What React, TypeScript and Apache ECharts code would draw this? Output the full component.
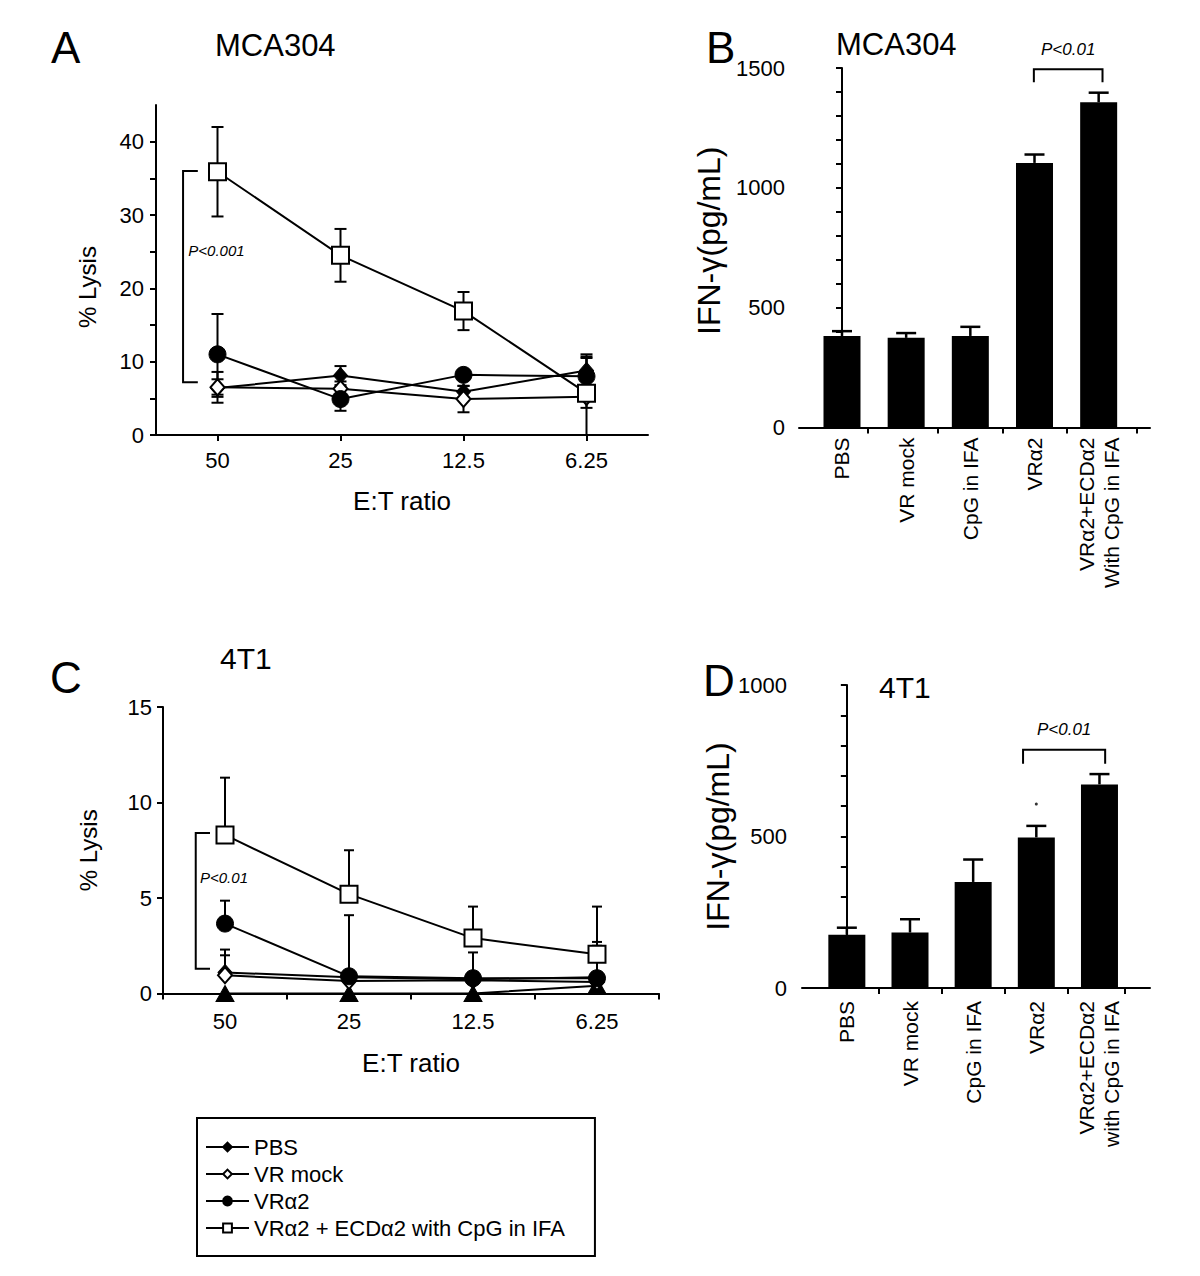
import React, { useEffect, useRef } from 'react';
import * as echarts from 'echarts';

const FONT = '"Liberation Sans", Arial, Helvetica, sans-serif';

// ---------- Panels A / C : % lysis vs E:T ratio ----------
const ratioCategories = ['50', '25', '12.5', '6.25'];

const seriesNames = ['PBS', 'VR mock', 'VRα2', 'VRα2 + ECDα2 with CpG in IFA'];

// Panel A (MCA304)
const aPBS = [6.4, 8.1, 5.9, 8.8];
const aPBSErr = [1.2, 1.3, 0.8, 2.2];
const aMock = [6.5, 6.3, 4.9, 5.2];
const aMockErr = [2.1, 1.0, 1.8, 5.5];
const aVRa2 = [11.0, 4.9, 8.2, 8.0];
const aVRa2Err = [5.5, 1.6, 0.7, 2.5];
const aCombo = [35.9, 24.5, 16.9, 5.7];
const aComboErr = [6.1, 3.6, 2.6, 2.0];
const aYLabels = [0, 10, 20, 30, 40];
const aYTicks = [0, 5, 10, 15, 20, 25, 30, 35, 40];

// Panel C (4T1)
const cPBS = [1.1, 0.85, 0.75, 0.85];
const cPBSErr = [1.2, 0.3, 0.3, 1.65];
const cMock = [0.95, 0.65, 0.7, 0.6];
const cMockErr = [1.05, 0.3, 0.3, 0.3];
const cVRa2 = [3.66, 0.9, 0.8, 0.8];
const cVRa2Err = [1.2, 3.2, 1.35, 1.9];
const cCombo = [8.3, 5.2, 2.9, 2.05];
const cComboErr = [3.0, 2.3, 1.65, 2.5];
const cUnlabeled = [0, 0, 0, 0.4];
const cYLabels = [0, 5, 10, 15];

// ---------- Panels B / D : IFN-γ bars ----------
const groupsB = ['PBS', 'VR mock', 'CpG in IFA', 'VRα2', 'VRα2+ECDα2\nWith CpG in IFA'];
const groupsD = ['PBS', 'VR mock', 'CpG in IFA', 'VRα2', 'VRα2+ECDα2\nwith CpG in IFA'];
const bValues = [382, 374, 382, 1104, 1357];
const bErr = [20, 20, 38, 35, 40];
const dValues = [176, 183, 350, 497, 672];
const dErr = [23, 44, 74, 38, 34];
const dStrayDot = [[3, 607]];
const bYLabels = [0, 500, 1000, 1500];
const bYTicks = [0, 100, 200, 300, 400, 500, 600, 700, 800, 900, 1000, 1100, 1200, 1300, 1400, 1500];
const dYLabels = [0, 500, 1000];
const dYTicks = [0, 100, 200, 300, 400, 500, 600, 700, 800, 900, 1000];
const bXTicks = [0.4, 1.5, 2.5, 3.5, 4.6];
const dXTicks = [0.5, 1.5, 2.5, 3.5, 4.4];
const barPositions = [0, 1, 2, 3, 4];

// ---------- significance annotations ----------
// lysis panels: [category index, bracket top, bracket bottom, text value]
const aSig = [[0, 36, 7.2, 25.1]];
const cSig = [[0, 8.4, 1.3, 6.05]];
// bar panels: [x left, x right, bracket top, leg end, text value]
const bSig = [[2.99, 4.06, 1495, 1441, 1579]];
const dSig = [[2.79, 4.09, 786, 740, 852]];
const sigTextA = 'P<0.001';
const sigTextC = 'P<0.01';
const sigTextB = 'P<0.01';
const sigTextD = 'P<0.01';

const BLACK = '#000';
const axisLineStyle = { show: true, lineStyle: { color: BLACK, width: 2 } };

function errorBars(name: string, axis: number, values: number[], errs: number[], both: boolean, capHalf: number) {
  return {
    type: 'custom',
    name,
    xAxisIndex: axis,
    yAxisIndex: axis,
    z: 1,
    silent: true,
    clip: false,
    data: values.map((v, i) => [i, v, errs[i]]),
    encode: { x: 0, y: 1 },
    renderItem: (params: any, api: any) => {
      const x = api.value(0);
      const v = api.value(1);
      const e = api.value(2);
      const hi = api.coord([x, v + e]);
      const loVal = both ? Math.max(v - e, 0) : v;
      const lo = api.coord([x, loVal]);
      const st = { stroke: BLACK, lineWidth: 2 };
      const children: any[] = [
        { type: 'line', shape: { x1: hi[0], y1: hi[1], x2: lo[0], y2: lo[1] }, style: st },
        { type: 'line', shape: { x1: hi[0] - capHalf, y1: hi[1], x2: hi[0] + capHalf, y2: hi[1] }, style: st },
      ];
      if (both && v - e > 0) {
        children.push({ type: 'line', shape: { x1: lo[0] - capHalf, y1: lo[1], x2: lo[0] + capHalf, y2: lo[1] }, style: st });
      }
      return { type: 'group', children };
    },
  };
}

function barErrorBars(name: string, axis: number, values: number[], errs: number[]) {
  return {
    type: 'custom',
    name,
    xAxisIndex: axis,
    yAxisIndex: axis,
    z: 1,
    silent: true,
    clip: false,
    data: values.map((v, i) => [barPositions[i], v, errs[i]]),
    encode: { x: 0, y: 1 },
    renderItem: (params: any, api: any) => {
      const x = api.value(0);
      const v = api.value(1);
      const e = api.value(2);
      const hi = api.coord([x, v + e]);
      const lo = api.coord([x, v]);
      const st = { stroke: BLACK, lineWidth: 2.5 };
      return {
        type: 'group',
        children: [
          { type: 'line', shape: { x1: hi[0], y1: hi[1], x2: lo[0], y2: lo[1] }, style: st },
          { type: 'line', shape: { x1: hi[0] - 10, y1: hi[1], x2: hi[0] + 10, y2: hi[1] }, style: st },
        ],
      };
    },
  };
}

function lysisBracket(name: string, axis: number, data: number[][], text: string, offFrac: number, tickFrac: number) {
  return {
    type: 'custom',
    name,
    xAxisIndex: axis,
    yAxisIndex: axis,
    z: 3,
    silent: true,
    clip: false,
    data,
    encode: { x: 0, y: [1, 2, 3] },
    renderItem: (params: any, api: any) => {
      const c = api.value(0);
      const top = api.coord([c, api.value(1)]);
      const bot = api.coord([c, api.value(2)]);
      const tp = api.coord([c, api.value(3)]);
      const bw = api.size([1, 0])[0];
      const x = top[0] + offFrac * bw;
      const t = tickFrac * bw;
      return {
        type: 'group',
        children: [
          {
            type: 'polyline',
            shape: { points: [[x + t, top[1]], [x, top[1]], [x, bot[1]], [x + t, bot[1]]] },
            style: { stroke: BLACK, lineWidth: 2, fill: 'none' },
          },
          {
            type: 'text',
            x: tp[0] - 1,
            y: tp[1],
            style: { text, fontSize: 15, fontStyle: 'italic', fontFamily: FONT, fill: BLACK, align: 'center', verticalAlign: 'middle' },
          },
        ],
      };
    },
  };
}

function barBracket(name: string, axis: number, data: number[][], text: string) {
  return {
    type: 'custom',
    name,
    xAxisIndex: axis,
    yAxisIndex: axis,
    z: 3,
    silent: true,
    clip: false,
    data,
    encode: { x: [0, 1], y: [2, 3, 4] },
    renderItem: (params: any, api: any) => {
      const l = api.coord([api.value(0), api.value(2)]);
      const r = api.coord([api.value(1), api.value(2)]);
      const legY = api.coord([api.value(0), api.value(3)])[1];
      const ty = api.coord([api.value(0), api.value(4)])[1];
      return {
        type: 'group',
        children: [
          {
            type: 'polyline',
            shape: { points: [[l[0], legY], [l[0], l[1]], [r[0], r[1]], [r[0], legY]] },
            style: { stroke: BLACK, lineWidth: 2, fill: 'none' },
          },
          {
            type: 'text',
            x: (l[0] + r[0]) / 2,
            y: ty,
            style: { text, fontSize: 17, fontStyle: 'italic', fontFamily: FONT, fill: BLACK, align: 'center', verticalAlign: 'middle' },
          },
        ],
      };
    },
  };
}

function lineSeries(name: string, axis: number, values: number[], symbol: string, size: any, filled: boolean, z: number) {
  return {
    type: 'line',
    name,
    xAxisIndex: axis,
    yAxisIndex: axis,
    data: values,
    symbol,
    symbolSize: size,
    showAllSymbol: true,
    clip: false,
    z,
    lineStyle: { color: BLACK, width: 2 },
    itemStyle: filled
      ? { color: BLACK, borderColor: BLACK, borderWidth: 1 }
      : { color: '#fff', borderColor: BLACK, borderWidth: 2 },
    emphasis: { disabled: true },
  };
}

function lysisXAxis(grid: number, alignTicks: boolean, labelMargin: number, nameGap: number) {
  return {
    type: 'category',
    gridIndex: grid,
    data: ratioCategories,
    boundaryGap: true,
    axisLine: axisLineStyle,
    axisTick: { show: true, alignWithLabel: alignTicks, length: 6, lineStyle: { color: BLACK, width: 2 } },
    axisLabel: { fontSize: 22, color: BLACK, margin: labelMargin, fontFamily: FONT },
    name: 'E:T ratio',
    nameLocation: 'middle',
    nameGap,
    nameTextStyle: { fontSize: 26, color: BLACK, fontFamily: FONT },
    splitLine: { show: false },
  };
}

function valueYAxis(
  grid: number,
  max: number,
  labels: number[],
  ticks: number[],
  name: string,
  nameGap: number,
  nameSize: number,
  labelMargin: number,
  namePadding: number[],
) {
  return {
    type: 'value',
    gridIndex: grid,
    min: 0,
    max,
    axisLine: axisLineStyle,
    axisTick: { show: true, customValues: ticks, length: 6, lineStyle: { color: BLACK, width: 2 } },
    axisLabel: {
      customValues: labels,
      formatter: (v: number) => String(v),
      fontSize: 22,
      color: BLACK,
      margin: labelMargin,
      fontFamily: FONT,
    },
    splitLine: { show: false },
    name,
    nameLocation: 'middle',
    nameRotate: 90,
    nameGap,
    nameTextStyle: { fontSize: nameSize, color: BLACK, fontFamily: FONT, padding: namePadding },
  };
}

function barXAxis(grid: number, min: number, groups: string[], ticks: number[], margin: number) {
  return {
    type: 'value',
    gridIndex: grid,
    min,
    max: 4.8,
    axisLine: axisLineStyle,
    axisTick: { show: true, customValues: ticks, length: 6, lineStyle: { color: BLACK, width: 2 } },
    axisLabel: {
      customValues: barPositions,
      formatter: (v: number) => groups[Math.round(v)] ?? '',
      rotate: 90,
      fontSize: 21,
      lineHeight: 25,
      color: BLACK,
      margin,
      fontFamily: FONT,
    },
    splitLine: { show: false },
  };
}

function bars(name: string, axis: number, values: number[]) {
  return {
    type: 'bar',
    name,
    xAxisIndex: axis,
    yAxisIndex: axis,
    data: values.map((v, i) => [barPositions[i], v]),
    barWidth: 37,
    itemStyle: { color: BLACK },
    z: 2,
    emphasis: { disabled: true },
  };
}

function titleText(text: string, left: number, top: number, size: number) {
  return { text, left, top, padding: 0, textStyle: { fontSize: size, fontWeight: 'normal', color: BLACK, fontFamily: FONT } };
}

const option: any = {
  animation: false,
  backgroundColor: '#fff',
  textStyle: { fontFamily: FONT, color: BLACK },
  title: [
    titleText('A', 51, 25, 44),
    titleText('MCA304', 215, 30, 31),
    titleText('B', 706, 25, 44),
    titleText('MCA304', 836, 29, 31),
    titleText('C', 50, 655, 44),
    titleText('4T1', 220, 643, 30),
    titleText('D', 703, 658, 44),
    titleText('4T1', 879, 672, 30),
  ],
  legend: {
    data: seriesNames,
    orient: 'vertical',
    left: 197,
    top: 1118,
    itemWidth: 43,
    itemHeight: 11,
    itemGap: 5,
    borderColor: BLACK,
    borderWidth: 2,
    borderRadius: 0,
    padding: [18, 30, 17, 8],
    selectedMode: false,
    textStyle: { fontSize: 22, color: BLACK, fontFamily: FONT },
  },
  grid: [
    { left: 156, top: 105, width: 492, height: 330, containLabel: false, outerBoundsMode: 'none' },
    { left: 799, top: 68, width: 351, height: 359.5, containLabel: false, outerBoundsMode: 'none' },
    { left: 163, top: 707, width: 496, height: 286.5, containLabel: false, outerBoundsMode: 'none' },
    { left: 802, top: 685, width: 348, height: 303, containLabel: false, outerBoundsMode: 'none' },
  ],
  xAxis: [
    lysisXAxis(0, true, 14, 53),
    barXAxis(1, -0.67, groupsB, bXTicks, 10),
    lysisXAxis(2, false, 17, 56),
    barXAxis(3, -0.71, groupsD, dXTicks, 13),
  ],
  yAxis: [
    valueYAxis(0, 45, aYLabels, aYTicks, '% Lysis', 57, 24, 12, [0, 34, 0, 0]),
    valueYAxis(1, 1500, bYLabels, bYTicks, 'IFN-γ(pg/mL)', 74, 32, 14, [0, 0, 0, 14]),
    valueYAxis(2, 15, cYLabels, cYLabels, '% Lysis', 63, 24, 11, [0, 0, 0, 0]),
    valueYAxis(3, 1000, dYLabels, dYTicks, 'IFN-γ(pg/mL)', 68, 32, 15, [0, 0, 0, 0]),
  ],
  series: [
    // Panel A
    errorBars('errA-PBS', 0, aPBS, aPBSErr, true, 6),
    errorBars('errA-mock', 0, aMock, aMockErr, true, 6),
    errorBars('errA-VRa2', 0, aVRa2, aVRa2Err, true, 6),
    errorBars('errA-combo', 0, aCombo, aComboErr, true, 6),
    lineSeries(seriesNames[0], 0, aPBS, 'diamond', [14, 16], true, 3),
    lineSeries(seriesNames[1], 0, aMock, 'diamond', [14, 16], false, 4),
    lineSeries(seriesNames[2], 0, aVRa2, 'circle', 17, true, 5),
    lineSeries(seriesNames[3], 0, aCombo, 'rect', 17, false, 6),
    lysisBracket('sigA', 0, aSig, sigTextA, -0.28, 0.12),
    // Panel B
    barErrorBars('errB', 1, bValues, bErr),
    bars('IFN-γ MCA304', 1, bValues),
    barBracket('sigB', 1, bSig, sigTextB),
    // Panel C
    errorBars('errC-PBS', 2, cPBS, cPBSErr, false, 5),
    errorBars('errC-mock', 2, cMock, cMockErr, false, 5),
    errorBars('errC-VRa2', 2, cVRa2, cVRa2Err, false, 5),
    errorBars('errC-combo', 2, cCombo, cComboErr, false, 5),
    lineSeries('Unlabeled', 2, cUnlabeled, 'triangle', [18, 16], true, 3),
    lineSeries(seriesNames[0], 2, cPBS, 'diamond', [14, 16], true, 3),
    lineSeries(seriesNames[1], 2, cMock, 'diamond', [14, 16], false, 4),
    lineSeries(seriesNames[2], 2, cVRa2, 'circle', 17, true, 5),
    lineSeries(seriesNames[3], 2, cCombo, 'rect', 17, false, 6),
    lysisBracket('sigC', 2, cSig, sigTextC, -0.236, 0.115),
    // Panel D
    barErrorBars('errD', 3, dValues, dErr),
    bars('IFN-γ 4T1', 3, dValues),
    barBracket('sigD', 3, dSig, sigTextD),
    {
      type: 'scatter',
      name: 'strayDot',
      xAxisIndex: 3,
      yAxisIndex: 3,
      data: dStrayDot,
      symbolSize: 3,
      itemStyle: { color: BLACK },
      silent: true,
    },
  ],
};

export default function App() {
  const ref = useRef<HTMLDivElement>(null);
  useEffect(() => {
    if (!ref.current) return;
    const chart = echarts.init(ref.current, null, { renderer: 'svg' });
    chart.setOption(option);
    return () => chart.dispose();
  }, []);
  return (
    <div
      ref={ref}
      style={{ position: 'absolute', left: 0, top: 0, width: 1200, height: 1276, background: '#fff' }}
    />
  );
}
